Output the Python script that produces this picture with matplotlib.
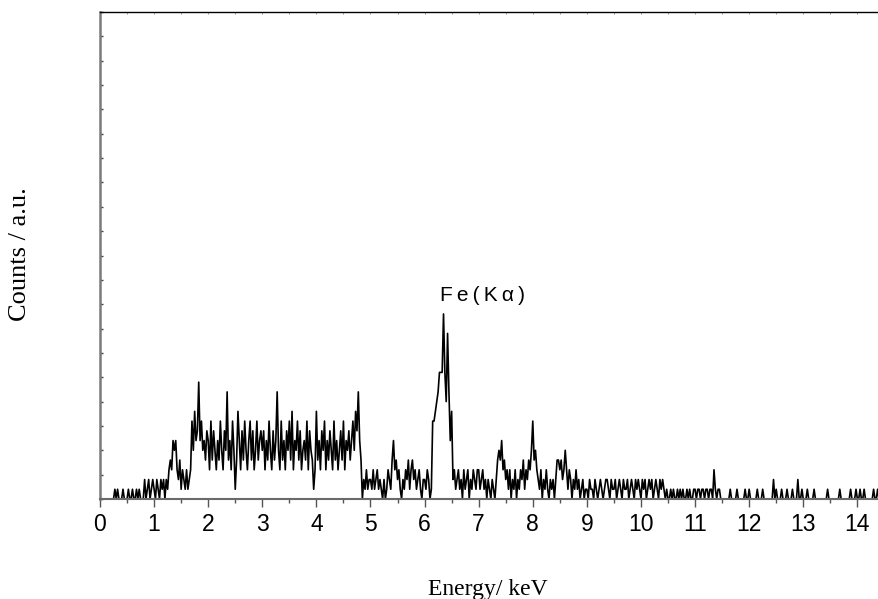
import numpy as np
import matplotlib
matplotlib.use("Agg")
import matplotlib.pyplot as plt
from matplotlib.ticker import MultipleLocator, NullFormatter

# EDX spectrum, counts (channel width 0.025 keV)
channel_width = 0.025

counts_00 = [0, 0, 0, 0, 0, 0, 0, 0, 0, 0, 0, 1, 0, 1, 0, 0, 0, 1, 0, 0,
             0, 1, 0, 0, 1, 0, 0, 1, 0, 1, 0, 0, 0, 2, 0, 1, 2, 0, 1, 2]
counts_01 = [1, 0, 2, 1, 0, 2, 1, 2, 0, 2, 1, 3, 4, 3, 6, 5, 6, 3, 2, 4,
             1, 3, 2, 1, 3, 1, 2, 3, 8, 5, 9, 6, 7, 12, 6, 8, 5, 6, 4, 7]
counts_02 = [6, 3, 8, 4, 7, 5, 3, 6, 4, 8, 5, 3, 7, 5, 11, 4, 6, 3, 8, 5,
             1, 4, 9, 6, 3, 7, 4, 8, 5, 3, 6, 8, 4, 7, 3, 5, 8, 4, 6, 7]
counts_03 = [5, 7, 3, 6, 4, 8, 5, 3, 7, 4, 6, 11, 5, 3, 8, 4, 6, 3, 7, 5,
             8, 4, 9, 3, 6, 5, 8, 4, 7, 3, 5, 6, 4, 8, 3, 7, 5, 4, 1, 3]
counts_04 = [9, 4, 6, 3, 7, 5, 8, 3, 6, 4, 7, 5, 3, 8, 4, 6, 3, 5, 7, 4,
             8, 3, 6, 5, 7, 4, 6, 8, 5, 9, 7, 11, 6, 4, 0, 2, 1, 3, 1, 2]
counts_05 = [2, 1, 3, 1, 2, 3, 1, 2, 1, 0, 2, 0, 1, 3, 2, 1, 4, 6, 3, 4,
             2, 3, 1, 0, 2, 1, 3, 2, 4, 1, 3, 4, 2, 3, 1, 2, 3, 1, 0, 2]
counts_06 = [2, 1, 3, 2, 0, 1, 8, 8, 9, 10, 11, 13, 13, 13, 19, 13, 10, 17, 11, 6,
             9, 2, 3, 1, 2, 3, 1, 2, 0, 3, 1, 2, 3, 0, 2, 1, 3, 2, 1, 3]
counts_07 = [3, 1, 2, 3, 1, 2, 0, 2, 1, 0, 2, 1, 0, 2, 4, 5, 4, 6, 3, 4,
             2, 3, 1, 3, 0, 2, 1, 3, 0, 2, 1, 3, 2, 4, 1, 3, 2, 4, 3, 5]
counts_08 = [8, 4, 5, 3, 2, 1, 3, 0, 2, 1, 3, 1, 0, 2, 1, 2, 0, 2, 4, 4,
             3, 4, 2, 3, 5, 3, 1, 3, 2, 0, 2, 1, 3, 1, 2, 0, 1, 2, 0, 1]
counts_09 = [1, 0, 2, 1, 1, 0, 2, 1, 0, 1, 2, 1, 0, 1, 2, 2, 1, 0, 2, 1,
             1, 2, 0, 1, 2, 1, 0, 2, 1, 1, 2, 0, 1, 2, 1, 0, 2, 1, 2, 1]
counts_10 = [0, 2, 1, 2, 0, 1, 2, 1, 2, 0, 1, 2, 1, 0, 2, 1, 2, 1, 0, 1,
             0, 0, 1, 0, 1, 0, 0, 1, 0, 1, 0, 1, 0, 0, 1, 0, 1, 0, 0, 1]
counts_11 = [1, 0, 1, 1, 0, 1, 1, 0, 1, 1, 0, 1, 1, 0, 3, 1, 0, 1, 1, 0,
             0, 0, 0, 0, 0, 0, 1, 0, 0, 0, 0, 1, 0, 0, 0, 0, 0, 1, 0, 0]
counts_12 = [1, 0, 0, 0, 0, 0, 1, 0, 0, 0, 1, 0, 0, 0, 0, 0, 0, 0, 2, 0,
             1, 0, 0, 0, 1, 0, 0, 0, 1, 0, 0, 0, 1, 0, 0, 0, 2, 0, 0, 1]
counts_13 = [0, 0, 0, 1, 0, 0, 0, 0, 1, 0, 0, 0, 0, 0, 0, 0, 0, 0, 1, 0,
             0, 0, 0, 0, 0, 0, 0, 1, 0, 0, 0, 0, 0, 0, 0, 1, 0, 0, 0, 1]
counts_14 = [0, 0, 1, 0, 0, 1, 0, 0, 0, 0, 0, 0, 1, 0, 0, 1, 0]

x_ticks = list(range(0, 15))
# letter-spaced like the original annotation
peak_label = "\u2009".join("Fe(K\u03b1)")
peak_pos = (6.28, 20.9)

counts = np.array(counts_00 + counts_01 + counts_02 + counts_03 + counts_04 +
                  counts_05 + counts_06 + counts_07 + counts_08 + counts_09 +
                  counts_10 + counts_11 + counts_12 + counts_13 + counts_14)
energy = np.arange(len(counts)) * channel_width

plt.rcParams['font.family'] = ['Liberation Sans', 'DejaVu Sans']

fig = plt.figure(figsize=(8.79, 5.99), dpi=100)
ax = fig.add_axes([100 / 879, 1 - 499 / 599, 1 - 100 / 879, 487 / 599])

ax.plot(energy, counts, color='black', linewidth=1.2)

ax.set_xlim(0, 14.4)
ax.set_ylim(0, 50)

# spines: grey left/bottom, thin black top, no right
ax.spines['right'].set_visible(False)
ax.spines['left'].set_color('#7a7a7a')
ax.spines['left'].set_linewidth(1.8)
ax.spines['bottom'].set_color('#6a6a6a')
ax.spines['bottom'].set_linewidth(1.5)
ax.spines['top'].set_color('black')
ax.spines['top'].set_linewidth(1.0)

ax.set_xticks(x_ticks)
ax.set_xticklabels([str(t) for t in x_ticks], fontsize=16.5)
ax.xaxis.set_minor_locator(MultipleLocator(0.5))
ax.tick_params(axis='x', which='major', direction='out', length=5.8,
               width=1.0, color='#555555', pad=4.5)
ax.tick_params(axis='x', which='minor', direction='out', length=3.2,
               width=1.0, color='#555555')

ax.yaxis.set_major_locator(MultipleLocator(2.5))
ax.yaxis.set_major_formatter(NullFormatter())
ax.tick_params(axis='y', which='major', direction='in', length=1.8,
               width=1.0, color='#444444')

top = ax.secondary_xaxis('top')
top.set_xticks(np.arange(0.5, 14.4, 0.5))
top.xaxis.set_major_formatter(NullFormatter())
top.tick_params(direction='in', length=1.2, width=0.6, color='#888888')
top.spines['top'].set_visible(False)

ax.text(peak_pos[0], peak_pos[1], peak_label, fontsize=15,
        ha='left', va='center')

fig.text(488 / 879, 1 - 595 / 599, "Energy/ keV", ha='center',
         va='baseline', fontsize=17, family=['Liberation Serif', 'DejaVu Serif'])
fig.text(20 / 879, 1 - 254 / 599, "Counts / a.u.", ha='center',
         va='center', rotation=90, fontsize=19,
         family=['Liberation Serif', 'DejaVu Serif'])

fig.savefig("out.png", dpi=100)
